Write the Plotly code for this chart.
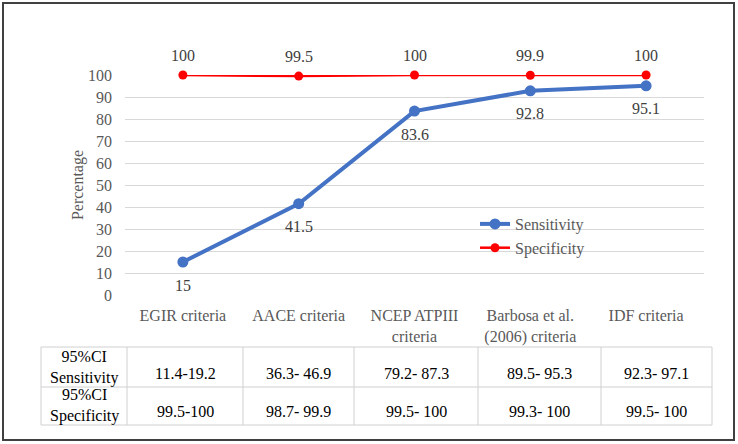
import plotly.graph_objects as go

categories = ["EGIR criteria", "AACE criteria", "NCEP ATPIII<br>criteria",
              "Barbosa et al.<br>(2006) criteria", "IDF criteria"]
sensitivity = [15, 41.5, 83.6, 92.8, 95.1]
specificity = [100, 99.5, 100, 99.9, 100]
ci_sens = ["11.4-19.2", "36.3- 46.9", "79.2- 87.3", "89.5- 95.3", "92.3- 97.1"]
ci_spec = ["99.5-100", "98.7- 99.9", "99.5- 100", "99.3- 100", "99.5- 100"]
row_labels = ["95%CI<br>Sensitivity", "95%CI<br>Specificity"]
y_ticks = list(range(0, 101, 10))

W, H = 738, 444
L, R, T, B = 125, 704, 75, 295
FONT = "Liberation Serif"
GRAY = "#595959"
FS = 16

def px(x):
    return (x - L) / (R - L)

def py(y):
    return (B - y) / (B - T)

fig = go.Figure()
xs = list(range(len(categories)))
fig.add_trace(go.Scatter(x=xs, y=sensitivity, name="Sensitivity", mode="lines+markers",
                         line=dict(color="#4472C4", width=4),
                         marker=dict(size=11, color="#4472C4"), cliponaxis=False))
fig.add_trace(go.Scatter(x=xs, y=specificity, name="Specificity", mode="lines+markers",
                         line=dict(color="#FF0000", width=2.5),
                         marker=dict(size=9, color="#FF0000"), cliponaxis=False))

ann = []
for i, v in enumerate(specificity):
    ann.append(dict(x=i, y=v, xref="x", yref="y", text=f"{v:g}", showarrow=False,
                    xanchor="center", yanchor="middle",
                    yshift=20, font=dict(family=FONT, size=FS, color="#404040")))
for i, v in enumerate(sensitivity):
    ann.append(dict(x=i, y=v, xref="x", yref="y", text=f"{v:g}", showarrow=False,
                    xanchor="center", yanchor="middle",
                    yshift=-23, font=dict(family=FONT, size=FS, color="#404040")))

# table
col_edges = [41, 127, 243, 354, 478, 601, 712]
row_edges = [347, 387, 425]
shapes = []
for yv in row_edges:
    shapes.append(dict(type="line", xref="paper", yref="paper", x0=px(col_edges[0]), x1=px(col_edges[-1]),
                       y0=py(yv), y1=py(yv), line=dict(color="#d0d0d0", width=1)))
for xv in col_edges:
    shapes.append(dict(type="line", xref="paper", yref="paper", x0=px(xv), x1=px(xv),
                       y0=py(row_edges[0]), y1=py(row_edges[-1]), line=dict(color="#d0d0d0", width=1)))
# outer border
shapes.append(dict(type="rect", xref="paper", yref="paper", x0=px(3), x1=px(734), y0=py(3), y1=py(440),
                   line=dict(color="#404040", width=2), fillcolor="rgba(0,0,0,0)"))

for r, (lab, vals) in enumerate(zip(row_labels, [ci_sens, ci_spec])):
    top, bot = row_edges[r], row_edges[r + 1]
    ann.append(dict(x=px((col_edges[0] + col_edges[1]) / 2), y=py((top + bot) / 2), xref="paper", yref="paper",
                    xanchor="center", yanchor="middle",
                    text=lab, showarrow=False, font=dict(family=FONT, size=FS, color="black")))
    for c, v in enumerate(vals):
        ann.append(dict(x=px((col_edges[c + 1] + col_edges[c + 2]) / 2), y=py(bot - 14), xref="paper", yref="paper",
                        xanchor="center", yanchor="middle",
                        text=v, showarrow=False, font=dict(family=FONT, size=FS, color="black")))

fig.update_layout(
    width=W, height=H, margin=dict(l=L, r=W - R, t=T, b=H - B),
    paper_bgcolor="white", plot_bgcolor="white",
    font=dict(family=FONT, size=FS, color=GRAY),
    showlegend=True,
    legend=dict(x=px(475), y=py(207), xanchor="left", yanchor="top", bgcolor="rgba(0,0,0,0)",
                font=dict(family=FONT, size=FS, color=GRAY), tracegroupgap=0),
    annotations=ann, shapes=shapes,
    xaxis=dict(range=[-0.5, 4.5], tickvals=xs, ticktext=categories, showgrid=False,
               showline=False, zeroline=False, ticks="", tickfont=dict(family=FONT, size=FS, color=GRAY),
               ticklabelstandoff=9),
    yaxis=dict(range=[0, 100], tickvals=y_ticks, showgrid=True, gridcolor="#d9d9d9", gridwidth=1,
               zeroline=False, showline=False, ticks="", tickfont=dict(family=FONT, size=FS, color=GRAY),
               ticklabelstandoff=12,
               title=dict(text="Percentage", font=dict(family=FONT, size=FS, color=GRAY), standoff=0)),
)
fig.write_html("out.html", config={"displayModeBar": False},
               post_script="document.body.style.margin='0';")
